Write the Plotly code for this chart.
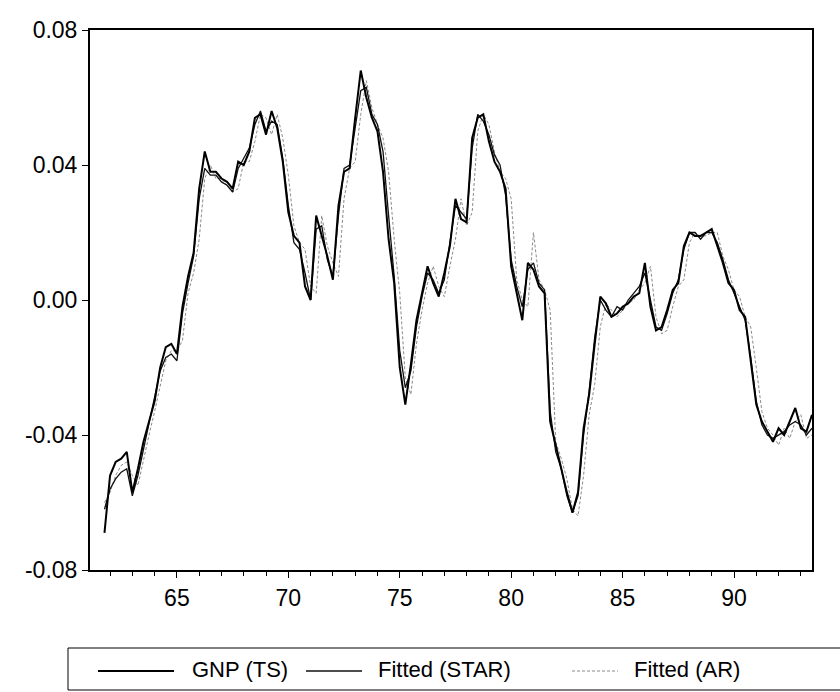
import pandas as pd
import plotly.graph_objects as go

# Quarterly sample, 1961Q4 - 1993Q3
quarters = pd.period_range("1961Q4", "1993Q3", freq="Q")

gnp_ts = [
    -0.069, -0.052, -0.048, -0.047, -0.045, -0.057, -0.050, -0.042, -0.036, -0.030,
    -0.020, -0.014, -0.013, -0.016, -0.002, 0.007, 0.014, 0.033, 0.044, 0.038,
    0.038, 0.036, 0.035, 0.033, 0.041, 0.040, 0.044, 0.054, 0.055, 0.049,
    0.056, 0.051, 0.041, 0.026, 0.019, 0.017, 0.004, 0.000, 0.025, 0.019,
    0.013, 0.006, 0.028, 0.038, 0.039, 0.054, 0.068, 0.060, 0.054, 0.050,
    0.038, 0.018, 0.005, -0.020, -0.031, -0.019, -0.006, 0.002, 0.010, 0.005,
    0.001, 0.008, 0.016, 0.030, 0.024, 0.023, 0.048, 0.054, 0.055, 0.047,
    0.041, 0.038, 0.033, 0.010, 0.002, -0.006, 0.011, 0.009, 0.004, 0.002,
    -0.036, -0.043, -0.050, -0.057, -0.063, -0.057, -0.038, -0.028, -0.013, 0.001,
    -0.001, -0.005, -0.004, -0.002, -0.001, 0.001, 0.002, 0.011, -0.002, -0.009,
    -0.008, -0.003, 0.003, 0.005, 0.016, 0.020, 0.019, 0.019, 0.020, 0.021,
    0.016, 0.011, 0.005, 0.003, -0.003, -0.005, -0.018, -0.031, -0.036, -0.039,
    -0.042, -0.038, -0.040, -0.036, -0.032, -0.038, -0.039, -0.034,
]

fitted_star = [
    -0.062, -0.056, -0.053, -0.051, -0.050, -0.058, -0.052, -0.044, -0.037, -0.029,
    -0.021, -0.017, -0.016, -0.018, -0.004, 0.005, 0.013, 0.030, 0.039, 0.037,
    0.037, 0.035, 0.034, 0.032, 0.039, 0.042, 0.045, 0.052, 0.056, 0.050,
    0.053, 0.052, 0.042, 0.028, 0.017, 0.015, 0.008, 0.000, 0.021, 0.022,
    0.012, 0.007, 0.025, 0.039, 0.040, 0.051, 0.062, 0.063, 0.055, 0.052,
    0.044, 0.025, 0.007, -0.015, -0.026, -0.021, -0.008, 0.001, 0.008, 0.006,
    0.002, 0.006, 0.017, 0.028, 0.026, 0.024, 0.045, 0.055, 0.053, 0.049,
    0.043, 0.040, 0.031, 0.012, 0.004, -0.002, 0.009, 0.011, 0.005, 0.003,
    -0.033, -0.045, -0.050, -0.058, -0.063, -0.058, -0.040, -0.027, -0.011, 0.000,
    -0.003, -0.005, -0.002, -0.003, 0.000, 0.002, 0.004, 0.008, 0.000, -0.008,
    -0.009, -0.004, 0.002, 0.006, 0.015, 0.020, 0.020, 0.018, 0.020, 0.020,
    0.017, 0.012, 0.006, 0.002, -0.002, -0.006, -0.017, -0.030, -0.037, -0.040,
    -0.041, -0.040, -0.039, -0.037, -0.036, -0.037, -0.040, -0.038,
]

fitted_ar = [
    -0.060, -0.057, -0.052, -0.049, -0.048, -0.052, -0.055, -0.047, -0.040, -0.033,
    -0.025, -0.018, -0.015, -0.015, -0.012, 0.002, 0.008, 0.018, 0.036, 0.040,
    0.036, 0.036, 0.034, 0.032, 0.033, 0.041, 0.041, 0.047, 0.055, 0.054,
    0.049, 0.055, 0.048, 0.037, 0.022, 0.017, 0.015, 0.004, 0.002, 0.025,
    0.016, 0.011, 0.007, 0.030, 0.039, 0.041, 0.055, 0.065, 0.057, 0.052,
    0.048, 0.038, 0.018, 0.002, -0.023, -0.028, -0.013, -0.003, 0.005, 0.010,
    0.004, 0.001, 0.010, 0.018, 0.030, 0.022, 0.026, 0.050, 0.055, 0.052,
    0.044, 0.038, 0.036, 0.030, 0.006, 0.000, -0.002, 0.020, 0.006, 0.003,
    -0.003, -0.042, -0.047, -0.053, -0.062, -0.064, -0.052, -0.034, -0.025, -0.008,
    -0.001, -0.003, -0.005, -0.003, -0.001, 0.000, 0.003, 0.005, 0.010, -0.005,
    -0.010, -0.009, -0.002, 0.004, 0.006, 0.017, 0.020, 0.019, 0.019, 0.020,
    0.020, 0.013, 0.009, 0.003, 0.001, -0.005, -0.008, -0.020, -0.033, -0.038,
    -0.040, -0.043, -0.038, -0.041, -0.036, -0.034, -0.041, -0.040,
]

year_ticks = [65, 70, 75, 80, 85, 90]
y_ticks = [-0.08, -0.04, 0.00, 0.04, 0.08]
y_tick_text = ["-0.08", "-0.04", "0.00", "0.04", "0.08"]

series_names = ["GNP (TS)", "Fitted (STAR)", "Fitted (AR)"]

# decimal year (two-digit) for each quarter
x = [q.year - 1900 + (q.quarter - 1) / 4 for q in quarters]

FONT = "Liberation Sans, Arial, sans-serif"
FS = 23
LEG_FS = 22
W, H = 840, 692
ML, MR, MT, MB = 90, 28, 30, 122
PW, PH = W - ML - MR, H - MT - MB


def px_x(p):
    return (p - ML) / PW


def px_y(p):
    return (H - MB - p) / PH


styles = [
    dict(color="#000000", width=2.0),
    dict(color="#111111", width=1.3),
    dict(color="#8a8a8a", width=1.0, dash="3px,2px"),
]

fig = go.Figure()
for name, ys, st in zip(series_names[::-1], [fitted_ar, fitted_star, gnp_ts], styles[::-1]):
    fig.add_trace(go.Scatter(x=x, y=ys, mode="lines", name=name, line=st,
                             showlegend=False))

fig.update_layout(
    width=W, height=H,
    margin=dict(l=ML, r=MR, t=MT, b=MB),
    paper_bgcolor="white", plot_bgcolor="white",
    font=dict(family=FONT, size=FS, color="black"),
    showlegend=False,
)
fig.update_xaxes(
    range=[61.1, 93.5],
    tickvals=year_ticks, ticktext=[str(v) for v in year_ticks],
    ticks="outside", ticklen=6, tickwidth=1, tickcolor="black",
    minor=dict(dtick=1, tick0=0, ticks="outside", ticklen=4, tickcolor="black"),
    showgrid=False, zeroline=False,
    showline=True, linecolor="black", linewidth=2, mirror=True,
    tickfont=dict(size=FS),
)
fig.update_yaxes(
    range=[-0.08, 0.08],
    tickvals=y_ticks, ticktext=y_tick_text,
    ticks="outside", ticklen=6, tickwidth=1, tickcolor="black",
    showgrid=False, zeroline=False,
    showline=True, linecolor="black", linewidth=2, mirror=True,
    tickfont=dict(size=FS),
)

# legend box along the bottom
fig.add_shape(type="rect", xref="paper", yref="paper",
              x0=px_x(68), x1=px_x(850), y0=px_y(690), y1=px_y(648),
              line=dict(color="black", width=1), fillcolor="rgba(0,0,0,0)")

legend_items = [
    (98, 174, 190),
    (306, 362, 376),
    (572, 618, 632),
]
for (s0, s1, tx), name, st in zip(legend_items, series_names, styles):
    fig.add_shape(type="line", xref="paper", yref="paper",
                  x0=px_x(s0), x1=px_x(s1), y0=px_y(671), y1=px_y(671),
                  line=st)
    fig.add_annotation(xref="paper", yref="paper", x=px_x(tx), y=px_y(669),
                       text=name, showarrow=False, xanchor="left", yanchor="middle",
                       font=dict(size=LEG_FS, family=FONT, color="black"))

fig.write_html("out.html")
